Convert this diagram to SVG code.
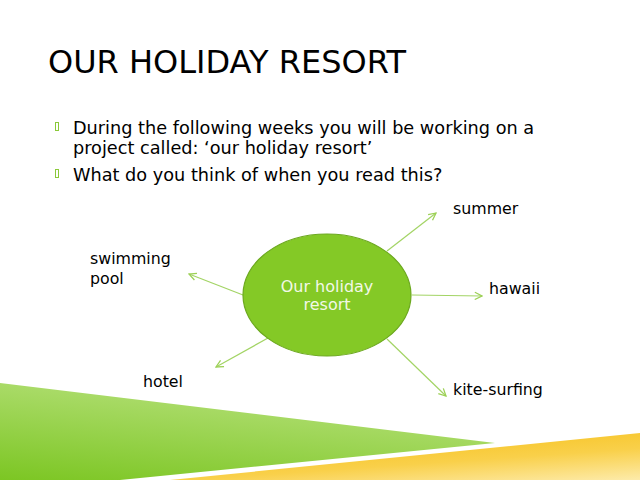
<svg xmlns="http://www.w3.org/2000/svg" width="640" height="480" viewBox="0 0 640 480">
<defs>
<linearGradient id="gGreen" x1="0" y1="1" x2="0.5" y2="0">
<stop offset="0" stop-color="#7CC623"/>
<stop offset="1" stop-color="#B5E079"/>
</linearGradient>
<linearGradient id="gYellow" x1="0.3" y1="0" x2="1" y2="1">
<stop offset="0" stop-color="#F6BF17"/>
<stop offset="0.55" stop-color="#F9D04A"/>
<stop offset="1" stop-color="#FDEBAA"/>
</linearGradient>
<marker id="arr" viewBox="0 0 10 10" refX="9" refY="5" markerWidth="9" markerHeight="9" orient="auto" markerUnits="userSpaceOnUse">
<path d="M1,1 L9,5 L1,9" fill="none" stroke="#9CD055" stroke-width="1.4"/>
</marker>
<style>
.t{font-family:"DejaVu Sans",Verdana,sans-serif;fill:#000}
.title{font-size:32px}
.body{font-size:17.7px}
.lbl{font-size:15.8px}
.ctr{font-family:"DejaVu Sans",Verdana,sans-serif;font-size:16px;fill:#F2F8E6;text-anchor:middle}
.conn{stroke:#A3D465;stroke-width:1.2;fill:none;marker-end:url(#arr)}
.bul{fill:none;stroke:#8BC93A;stroke-width:1}
</style>
</defs>
<rect width="640" height="480" fill="#fff"/>
<g id="decor">
<polygon points="0,383 495,443 120,480 0,480" fill="url(#gGreen)"/>
<polygon points="170,480 640,433 640,480" fill="url(#gYellow)"/>
</g>
<g id="title">
<text class="t title" x="48" y="73">OUR HOLIDAY RESORT</text>
</g>
<g id="bullets">
<rect class="bul" x="55.5" y="122.5" width="3" height="8"/>
<rect class="bul" x="55.5" y="169.5" width="3" height="8"/>
<text class="t body" x="73" y="134">During the following weeks you will be working on a</text>
<text class="t body" x="73" y="154">project called: ‘our holiday resort’</text>
<text class="t body" x="73" y="181">What do you think of when you read this?</text>
</g>
<g id="connectors">
<line class="conn" x1="387" y1="251" x2="436" y2="213"/>
<line class="conn" x1="412" y1="295" x2="482" y2="296"/>
<line class="conn" x1="387" y1="339" x2="446" y2="396"/>
<line class="conn" x1="243" y1="295" x2="189" y2="274"/>
<line class="conn" x1="268" y1="338" x2="216" y2="367"/>
</g>
<g id="center">
<ellipse cx="327" cy="295" rx="84" ry="61" fill="#84C926" stroke="#6CA81F" stroke-width="1.2"/>
<text class="ctr" x="327" y="292">Our holiday</text>
<text class="ctr" x="327" y="310">resort</text>
</g>
<g id="n-summer"><text class="t lbl" x="453" y="214">summer</text></g>
<g id="n-hawaii"><text class="t lbl" x="489" y="294">hawaii</text></g>
<g id="n-kite"><text class="t lbl" x="453" y="395">kite-surfing</text></g>
<g id="n-pool"><text class="t lbl" x="90" y="264">swimming</text><text class="t lbl" x="90" y="284">pool</text></g>
<g id="n-hotel"><text class="t lbl" x="143" y="387">hotel</text></g>
</svg>
